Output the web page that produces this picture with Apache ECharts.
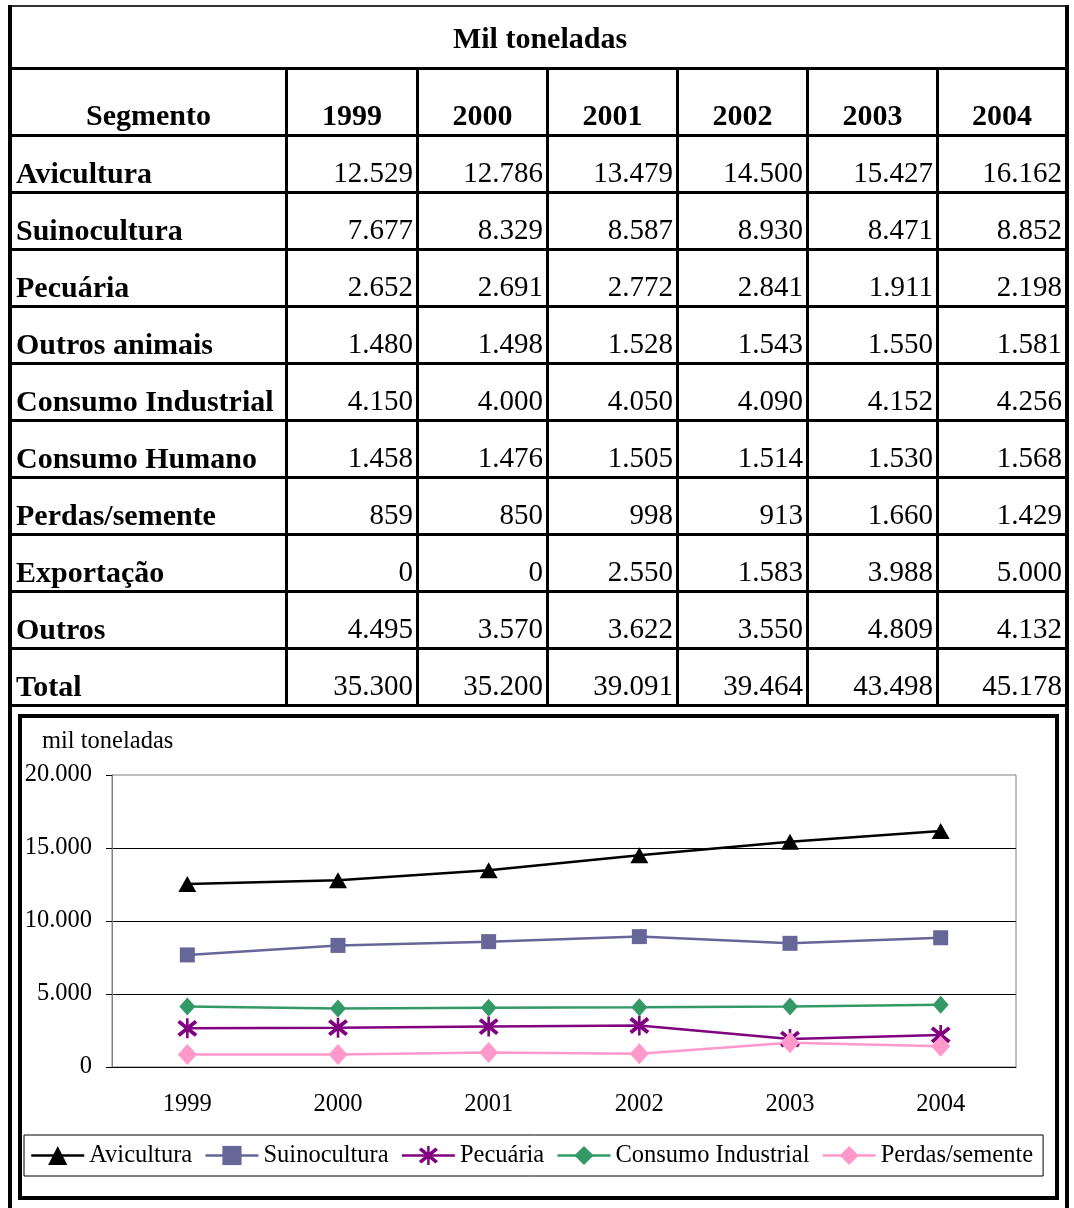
<!DOCTYPE html>
<html>
<head>
<meta charset="utf-8">
<script src="https://cdn.jsdelivr.net/npm/echarts@6/dist/echarts.min.js"></script>
<style>
  html, body { margin: 0; padding: 0; background: #fff; }
  #page { position: relative; width: 1074px; height: 1208px; overflow: hidden;
          font-family: 'Liberation Serif', 'Times New Roman', serif; color: #000; }
  .ln { position: absolute; background: #000; }
  .tx { position: absolute; font-size: 29px; line-height: 29px; height: 29px; white-space: nowrap; }
  .b { font-weight: bold; font-size: 30px; }
  #chartBox { position: absolute; left: 18px; top: 714px; width: 1041px; height: 486px;
              box-sizing: border-box; border: 4px solid #000; }
  #chart { position: absolute; left: 0; top: 0; width: 1074px; height: 1208px; }
</style>
</head>
<body>
<div id="page">
  <div id="chartBox"></div>
  <div id="chart"></div>
</div>
<script>
// ---- Data (mil toneladas) ----
const years = ['1999', '2000', '2001', '2002', '2003', '2004'];
const tableTitle = 'Mil toneladas';
const firstHeader = 'Segmento';

const avicultura        = [12529, 12786, 13479, 14500, 15427, 16162];
const suinocultura      = [7677, 8329, 8587, 8930, 8471, 8852];
const pecuaria          = [2652, 2691, 2772, 2841, 1911, 2198];
const outrosAnimais     = [1480, 1498, 1528, 1543, 1550, 1581];
const consumoIndustrial = [4150, 4000, 4050, 4090, 4152, 4256];
const consumoHumano     = [1458, 1476, 1505, 1514, 1530, 1568];
const perdasSemente     = [859, 850, 998, 913, 1660, 1429];
const exportacao        = [0, 0, 2550, 1583, 3988, 5000];
const outros            = [4495, 3570, 3622, 3550, 4809, 4132];
const total             = [35300, 35200, 39091, 39464, 43498, 45178];

const tableRows = [
  ['Avicultura', avicultura],
  ['Suinocultura', suinocultura],
  ['Pecuária', pecuaria],
  ['Outros animais', outrosAnimais],
  ['Consumo Industrial', consumoIndustrial],
  ['Consumo Humano', consumoHumano],
  ['Perdas/semente', perdasSemente],
  ['Exportação', exportacao],
  ['Outros', outros],
  ['Total', total]
];

// Series shown in the line chart
const chartSeries = [
  ['Avicultura', avicultura],
  ['Suinocultura', suinocultura],
  ['Pecuária', pecuaria],
  ['Consumo Industrial', consumoIndustrial],
  ['Perdas/semente', perdasSemente]
];

const yTicks = { min: 0, max: 20000, step: 5000 };
const yAxisName = 'mil toneladas';

// thousands separator "."
const fmt = v => String(v).replace(/\B(?=(\d{3})+(?!\d))/g, '.');

// ---- Table drawing ----
const page = document.getElementById('page');
function line(x, y, w, h, color) {
  const d = document.createElement('div');
  d.className = 'ln';
  d.style.left = x + 'px'; d.style.top = y + 'px';
  d.style.width = w + 'px'; d.style.height = h + 'px';
  if (color) d.style.background = color;
  page.appendChild(d);
}
// baseline sits ~24px below the top of a 29px line box
function text(str, x, baseline, align, bold) {
  const d = document.createElement('div');
  d.className = 'tx' + (bold ? ' b' : '');
  d.textContent = str;
  d.style.top = (baseline - 24) + 'px';
  if (align === 'left') { d.style.left = x + 'px'; }
  else if (align === 'right') { d.style.right = (1074 - x) + 'px'; d.style.textAlign = 'right'; }
  else { d.style.left = (x - 200) + 'px'; d.style.width = '400px'; d.style.textAlign = 'center'; }
  page.appendChild(d);
}

const colLeft = [285, 416, 546, 676, 806, 936];     // inner vertical rules
const outerL = 8, outerR = 1065;
const rowRules = [67];
for (let k = 0; k <= 10; k++) rowRules.push(134 + 57 * k);

// outer frame
line(outerL, 5, outerR + 4 - outerL, 2, '#333');
line(outerL, 5, 4, 1203);
line(outerR, 5, 4, 1203);
// horizontal rules
rowRules.forEach(y => line(outerL, y, outerR + 4 - outerL, 3));
// vertical rules (below title row)
colLeft.forEach(x => line(x, 67, 3, 640));

// title row
text(tableTitle, 540, 47, 'center', true);
// header row
const colStarts = [12].concat(colLeft.map(x => x + 3));
const colEnds = colLeft.concat([outerR]);
text(firstHeader, (colStarts[0] + colEnds[0]) / 2, 124, 'center', true);
years.forEach((y, i) => text(y, (colStarts[i + 1] + colEnds[i + 1]) / 2, 124, 'center', true));
// data rows
tableRows.forEach((row, r) => {
  const base = 182 + 57 * r;
  text(row[0], 16, base, 'left', true);
  row[1].forEach((v, i) => text(fmt(v), colEnds[i + 1] - 3, base, 'right', false));
});

// ---- Line chart ----
const font = "'Liberation Serif', 'Times New Roman', serif";
const fs = 24.5;
const asterisk = 'path://M8.8 0L11.2 0L11.2 20L8.8 20Z M0.8 4.4L3.2 1.6L19.2 15.6L16.8 18.4Z M16.8 1.6L19.2 4.4L3.2 18.4L0.8 15.6Z';
const styles = {
  'Avicultura':         { color: '#000000', symbol: 'triangle', size: [18, 16] },
  'Suinocultura':       { color: '#666699', symbol: 'rect',     size: 15 },
  'Pecuária':           { color: '#800080', symbol: asterisk,   size: 20 },
  'Consumo Industrial': { color: '#339966', symbol: 'diamond',  size: [16, 18] },
  'Perdas/semente':     { color: '#FF99CC', symbol: 'diamond',  size: [19, 21] }
};

const chart = echarts.init(document.getElementById('chart'), null, { renderer: 'canvas' });
chart.setOption({
  animation: false,
  textStyle: { fontFamily: font, color: '#000' },
  title: {
    text: yAxisName, left: 37, top: 724,
    textStyle: { fontFamily: font, fontSize: fs, fontWeight: 'normal', color: '#000' }
  },
  grid: {
    left: 112, right: 58, top: 775, bottom: 141,
    show: true, borderColor: '#808080', borderWidth: 1
  },
  xAxis: {
    type: 'category', data: years, boundaryGap: true,
    axisLine: { lineStyle: { color: '#000', width: 1 } },
    axisTick: { length: 8, lineStyle: { color: '#000' } },
    axisLabel: { margin: 25, color: '#000', fontSize: fs, fontFamily: font }
  },
  yAxis: {
    type: 'value', min: yTicks.min, max: yTicks.max, interval: yTicks.step,
    axisLine: { show: true, lineStyle: { color: '#808080', width: 1 } },
    axisTick: { show: true, length: 6, lineStyle: { color: '#000' } },
    axisLabel: { margin: 20, color: '#000', fontSize: fs, fontFamily: font, formatter: fmt,
                 padding: [6, 0, 0, 0] },
    splitLine: { show: true, showMinLine: false, showMaxLine: false, lineStyle: { color: '#000', width: 1 } }
  },
  legend: {
    left: 24, top: 1135, orient: 'horizontal',
    itemWidth: 53, itemHeight: 24, itemGap: 12,
    padding: [8, 10, 8, 6],
    borderColor: '#000', borderWidth: 1, backgroundColor: '#fff',
    lineStyle: { width: 2.5 },
    textStyle: { fontSize: fs, lineHeight: 24, color: '#000', fontFamily: font },
    data: chartSeries.map(s => s[0])
  },
  series: chartSeries.map(([name, values]) => {
    const st = styles[name];
    return {
      name, type: 'line', data: values,
      color: st.color, symbol: st.symbol, symbolSize: st.size,
      showAllSymbol: true,
      lineStyle: { color: st.color, width: 2.5 },
      itemStyle: { color: st.color, borderWidth: 0 }
    };
  })
});
</script>
</body>
</html>
